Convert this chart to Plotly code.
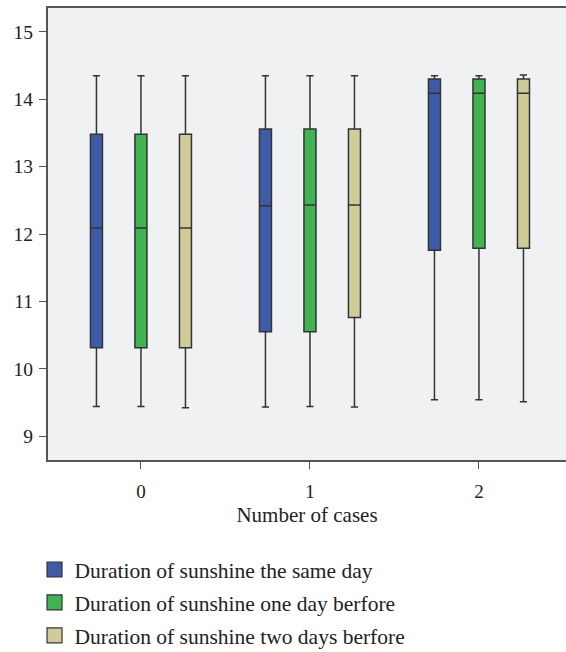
import plotly.graph_objects as go

categories = ["0", "1", "2"]
series_names = [
    "Duration of sunshine the same day",
    "Duration of sunshine one day berfore",
    "Duration of sunshine two days berfore",
]
colors = ["#3d5ba6", "#41b352", "#cfcc99"]

lower = [[9.44, 9.43, 9.54], [9.44, 9.44, 9.54], [9.42, 9.43, 9.51]]
q1 = [[10.31, 10.55, 11.76], [10.31, 10.55, 11.79], [10.31, 10.76, 11.79]]
median = [[12.09, 12.42, 14.09], [12.09, 12.43, 14.09], [12.09, 12.43, 14.09]]
q3 = [[13.48, 13.56, 14.30], [13.48, 13.56, 14.30], [13.48, 13.56, 14.30]]
upper = [[14.35, 14.35, 14.35], [14.35, 14.35, 14.35], [14.35, 14.35, 14.36]]

FONT = "Liberation Serif"
fig = go.Figure()
for i, name in enumerate(series_names):
    fig.add_trace(go.Box(
        x=categories, lowerfence=lower[i], q1=q1[i], median=median[i],
        q3=q3[i], upperfence=upper[i], name=name, showlegend=False,
        fillcolor=colors[i], line=dict(color="#333333", width=1.5),
        whiskerwidth=0.6, boxpoints=False, hoverinfo="skip",
    ))
for i, name in enumerate(series_names):
    fig.add_trace(go.Scatter(
        x=[None], y=[None], mode="markers", name=name,
        legendgroup=str(i),
        marker=dict(symbol="square", size=15, color=colors[i],
                    line=dict(color="#333333", width=1.2)),
    ))

fig.update_layout(
    width=566, height=652,
    margin=dict(l=48, r=0, t=8, b=192, autoexpand=False),
    paper_bgcolor="white", plot_bgcolor="#f0f1f3",
    boxmode="group", boxgap=0.21, boxgroupgap=0.73,
    font=dict(family=FONT, size=18, color="#222222"),
    showlegend=True,
    legend=dict(x=-0.026, xanchor="left", y=-0.197, yanchor="top",
                font=dict(family=FONT, size=21.5, color="#222222"),
                tracegroupgap=2, itemsizing="trace"),
    xaxis=dict(type="category", range=[-0.55, 2.515], showgrid=False,
               showline=True, linecolor="#555555", linewidth=2, mirror=True,
               ticks="outside", ticklen=7, tickcolor="#555555",
               tickfont=dict(size=19), ticklabelstandoff=6,
               title=dict(text="Number of cases", standoff=7,
                          font=dict(family=FONT, size=21, color="#222222")),
               zeroline=False),
    yaxis=dict(range=[8.644, 15.356], showgrid=False, zeroline=False,
               tickvals=[9, 10, 11, 12, 13, 14, 15],
               tickfont=dict(size=19.5), ticklabelstandoff=2,
               showline=True, linecolor="#555555", linewidth=2,
               ticks="outside", ticklen=7, tickcolor="#555555"),
)
fig.write_html("out.html")
